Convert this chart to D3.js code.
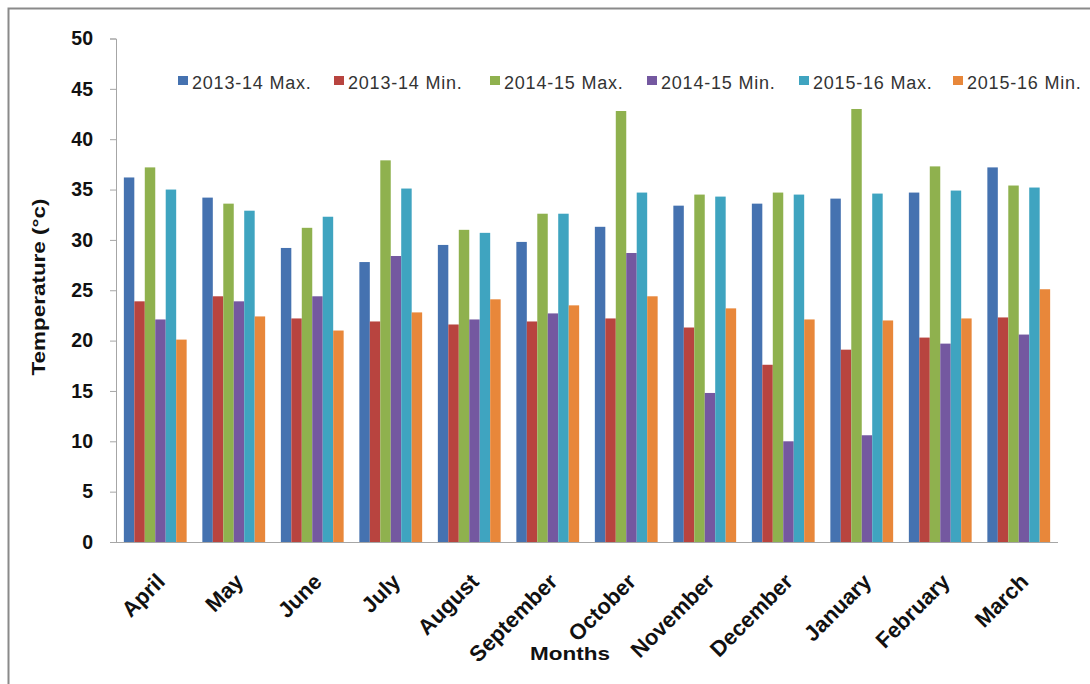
<!DOCTYPE html>
<html>
<head>
<meta charset="utf-8">
<script src="https://cdn.jsdelivr.net/npm/d3@7"></script>
<style>
  body { margin: 0; background: #fff; }
  text { font-family: "Liberation Sans", Arial, sans-serif; }
</style>
</head>
<body>
<div id="chart"></div>
<script>
var months = ["April", "May", "June", "July", "August", "September", "October", "November", "December", "January", "February", "March"];
var seriesNames = ["2013-14 Max.", "2013-14 Min.", "2014-15 Max.", "2014-15 Min.", "2015-16 Max.", "2015-16 Min."];
var seriesColors = ["#4572B0", "#B8443F", "#8FB14E", "#7458A0", "#3FA4C0", "#E8873A"];

var max1314 = [36.2, 34.2, 29.2, 27.8, 29.5, 29.8, 31.3, 33.4, 33.6, 34.1, 34.7, 37.2];
var min1314 = [23.9, 24.4, 22.2, 21.9, 21.6, 21.9, 22.2, 21.3, 17.6, 19.1, 20.3, 22.3];
var max1415 = [37.2, 33.6, 31.2, 37.9, 31.0, 32.6, 42.8, 34.5, 34.7, 43.0, 37.3, 35.4];
var min1415 = [22.1, 23.9, 24.4, 28.4, 22.1, 22.7, 28.7, 14.8, 10.0, 10.6, 19.7, 20.6];
var max1516 = [35.0, 32.9, 32.3, 35.1, 30.7, 32.6, 34.7, 34.3, 34.5, 34.6, 34.9, 35.2];
var min1516 = [20.1, 22.4, 21.0, 22.8, 24.1, 23.5, 24.4, 23.2, 22.1, 22.0, 22.2, 25.1];

var yTicks = [0, 5, 10, 15, 20, 25, 30, 35, 40, 45, 50];

var allSeries = [max1314, min1314, max1415, min1415, max1516, min1516];

var width = 1090, height = 684;
var margin = {left: 116, right: 32, top: 38.5, bottom: 142};

var svg = d3.select("#chart").append("svg")
    .attr("width", width)
    .attr("height", height);

// outer frame (only left and top edges visible)
svg.append("path")
    .attr("d", "M8.5,684 L8.5,8.5 L1090,8.5")
    .attr("fill", "none")
    .attr("stroke", "#8a8a8a")
    .attr("stroke-width", 2);

var x0 = d3.scaleBand()
    .domain(months)
    .range([margin.left, width - margin.right])
    .paddingInner(0.2)
    .paddingOuter(0.1);

var x1 = d3.scaleBand()
    .domain(d3.range(seriesNames.length))
    .range([0, x0.bandwidth()]);

var y = d3.scaleLinear()
    .domain([0, 50])
    .range([height - margin.bottom, margin.top]);

// bars
var groups = svg.selectAll(".month")
    .data(months)
    .enter().append("g")
    .attr("class", "month")
    .attr("transform", function(d) { return "translate(" + x0(d) + ",0)"; });

groups.selectAll("rect")
    .data(function(d, i) { return allSeries.map(function(s, k) { return {k: k, v: s[i]}; }); })
    .enter().append("rect")
    .attr("x", function(d) { return x1(d.k); })
    .attr("width", x1.bandwidth())
    .attr("y", function(d) { return y(d.v); })
    .attr("height", function(d) { return y(0) - y(d.v); })
    .attr("fill", function(d) { return seriesColors[d.k]; });

// y axis
var yAxis = svg.append("g")
    .attr("transform", "translate(" + margin.left + ",0)")
    .call(d3.axisLeft(y).tickValues(yTicks).tickSize(6).tickPadding(17));
yAxis.select(".domain").attr("stroke", "#a6a6a6");
yAxis.selectAll(".tick line").attr("stroke", "#a6a6a6");
yAxis.selectAll(".tick text")
    .attr("font-size", 19.5)
    .attr("font-weight", "bold")
    .attr("font-family", "Liberation Sans, Arial, sans-serif")
    .attr("fill", "#111");

// x axis
var xAxis = svg.append("g")
    .attr("transform", "translate(0," + y(0) + ")")
    .call(d3.axisBottom(x0).tickSize(0).tickPadding(0));
xAxis.select(".domain").attr("stroke", "#a6a6a6").attr("d", "M" + margin.left + ",0.5H" + (width - margin.right));
xAxis.selectAll(".tick text")
    .attr("font-size", 22)
    .attr("font-weight", "bold")
    .attr("font-family", "Liberation Sans, Arial, sans-serif")
    .attr("fill", "#111")
    .attr("text-anchor", "end")
    .attr("dy", 0)
    .attr("y", 0)
    .attr("transform", "translate(11,41) rotate(-45)");

// axis titles
svg.append("text")
    .attr("x", 570)
    .attr("y", 660)
    .attr("text-anchor", "middle")
    .attr("font-size", 18)
    .attr("font-weight", "bold")
    .attr("fill", "#111")
    .attr("textLength", 80)
    .attr("lengthAdjust", "spacingAndGlyphs")
    .text("Months");

var yTitle = svg.append("text")
    .attr("transform", "translate(45,287) rotate(-90)")
    .attr("text-anchor", "middle")
    .attr("font-size", 18)
    .attr("font-weight", "bold")
    .attr("fill", "#111")
    .attr("textLength", 177)
    .attr("lengthAdjust", "spacingAndGlyphs")
    .text("Temperature (°c)");

// legend
var legendX = [178, 334, 490, 647, 799, 953];
var legend = svg.append("g").attr("class", "legend");
var items = legend.selectAll("g")
    .data(seriesNames)
    .enter().append("g")
    .attr("transform", function(d, i) { return "translate(" + legendX[i] + ",89)"; });
items.append("rect")
    .attr("x", 0).attr("y", -13)
    .attr("width", 10).attr("height", 9)
    .attr("fill", function(d, i) { return seriesColors[i]; });
items.append("text")
    .attr("x", 14)
    .attr("y", 0)
    .attr("font-size", 18)
    .attr("letter-spacing", 0.8)
    .attr("fill", "#333")
    .text(function(d) { return d; });
</script>
</body>
</html>
